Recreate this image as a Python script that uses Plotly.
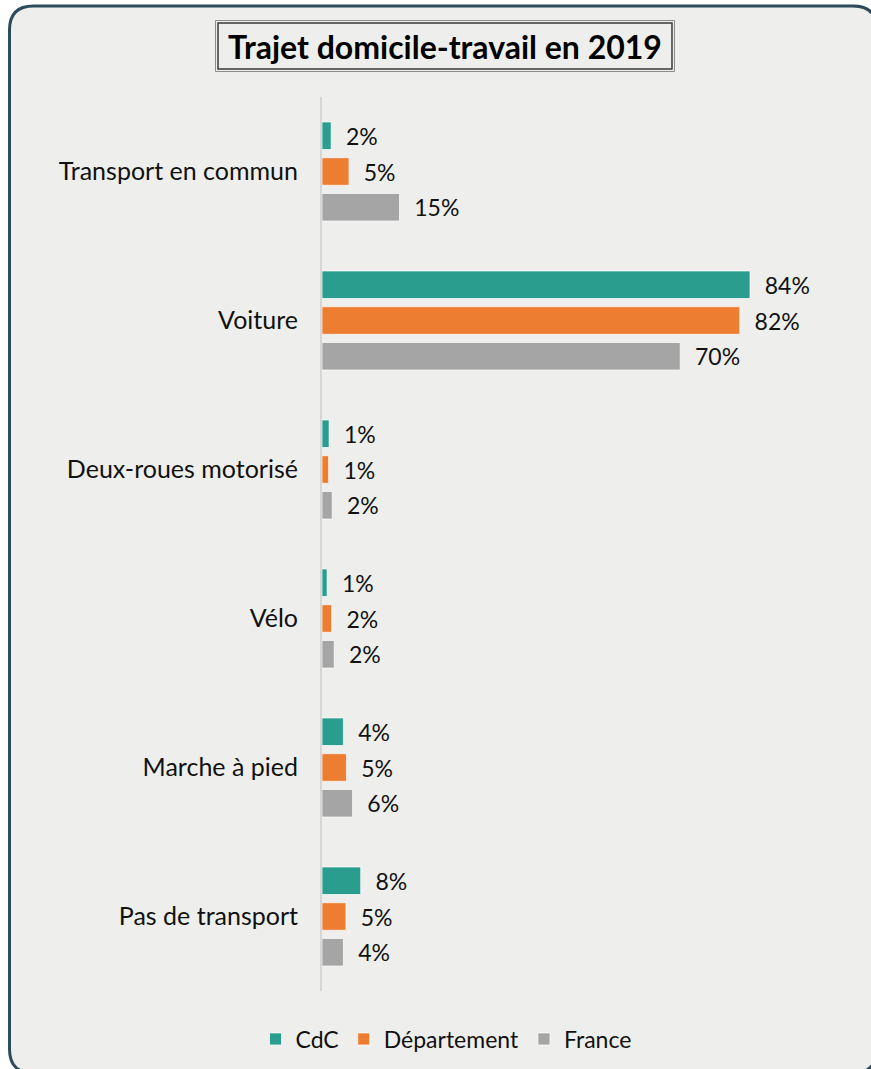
import plotly.graph_objects as go

W, H = 871, 1069

categories = ["Transport en commun", "Voiture", "Deux-roues motorisé", "Vélo",
              "Marche à pied", "Pas de transport"]
series_names = ["CdC", "Département", "France"]
cdc = [1.8, 84.0, 1.4, 1.0, 4.2, 7.6]
departement = [5.3, 82.0, 1.3, 1.9, 4.8, 4.7]
france = [15.2, 70.3, 2.0, 2.4, 6.0, 4.2]
colors = ["#2a9d8f", "#ed7d31", "#a5a5a5"]

title_text = "Trajet domicile-travail en 2019"

FONT = "Lato"


def px(x):
    return x / W


def py(y):
    return 1 - y / H


fig = go.Figure()
for name, vals, col in zip(series_names, [cdc, departement, france], colors):
    fig.add_trace(go.Bar(
        name=name,
        y=categories,
        x=vals,
        orientation="h",
        marker=dict(color=col, line=dict(color="rgba(255,255,255,0.7)", width=1)),
        texttemplate="\u00a0\u00a0%{x:.0f}%",
        textposition="outside",
        textfont=dict(family=FONT, size=23, color="#111111"),
        constraintext="none",
        cliponaxis=False,
        hoverinfo="skip",
    ))

# rounded background frame
x0, y0, x1, y1, r = 9.5, 6.0, 877.0, 1073.0, 24.0
pts = [
    ("M", [(x0 + r, y0)]),
    ("L", [(x1 - r, y0)]),
    ("Q", [(x1, y0), (x1, y0 + r)]),
    ("L", [(x1, y1 - r)]),
    ("Q", [(x1, y1), (x1 - r, y1)]),
    ("L", [(x0 + r, y1)]),
    ("Q", [(x0, y1), (x0, y1 - r)]),
    ("L", [(x0, y0 + r)]),
    ("Q", [(x0, y0), (x0 + r, y0)]),
]
path = ""
for cmd, ps in pts:
    path += cmd + " " + " ".join(f"{px(a):.5f},{py(b):.5f}" for a, b in ps) + " "
path += "Z"

shapes = [
    dict(type="path", path=path, xref="paper", yref="paper",
         fillcolor="#eeefec", line=dict(color="#2c4b5c", width=3), layer="below"),
    # title double box
    dict(type="rect", xref="paper", yref="paper",
         x0=px(215.5), x1=px(674.5), y0=py(20.5), y1=py(71.5),
         line=dict(color="#8c8c8c", width=1)),
    dict(type="rect", xref="paper", yref="paper",
         x0=px(218), x1=px(672), y0=py(23), y1=py(69),
         line=dict(color="#3a3a3a", width=1.5)),
]

fig.update_layout(
    width=W, height=H,
    margin=dict(l=0, r=0, t=0, b=0),
    paper_bgcolor="white",
    plot_bgcolor="rgba(0,0,0,0)",
    barmode="group",
    bargap=0.28,
    bargroupgap=0.23,
    shapes=shapes,
    font=dict(family=FONT, color="#111111"),
    annotations=[dict(
        text=f"<b>{title_text}</b>", x=px(445), y=py(46), xref="paper", yref="paper",
        showarrow=False, xanchor="center", yanchor="middle",
        font=dict(family=FONT, size=32, color="#000000"),
    )],
    xaxis=dict(domain=[px(322), px(842)], range=[0, 520 / (428 / 84)],
               showgrid=False, zeroline=False, showticklabels=False, showline=False),
    yaxis=dict(domain=[py(991), py(97)], autorange="reversed",
               showgrid=False, zeroline=False, showline=True,
               linecolor="#d6d6d6", linewidth=2, ticks="",
               ticklabelstandoff=17,
               tickfont=dict(family=FONT, size=25, color="#111111")),
    legend=dict(orientation="h", x=px(446), xanchor="center", y=py(1039), yanchor="middle",
                font=dict(family=FONT, size=23, color="#111111"),
                bgcolor="rgba(0,0,0,0)", traceorder="normal"),
    showlegend=True,
)

fig.write_html(
    "out.html",
    config={"displayModeBar": False},
    post_script="document.body.style.margin='0';document.body.style.overflow='hidden';",
)
